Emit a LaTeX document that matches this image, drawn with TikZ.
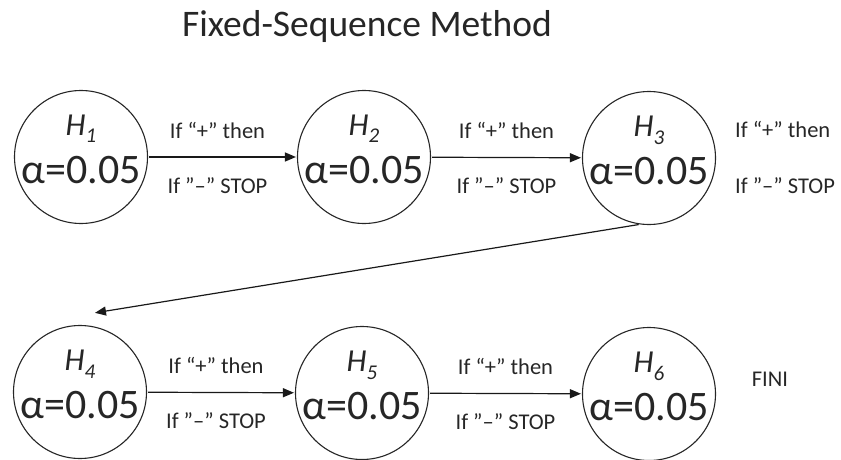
\documentclass[tikz,border=0pt]{standalone}
\usepackage{fontspec}
\setmainfont{Carlito}
\usetikzlibrary{arrows.meta,calc}
\newcommand\hypnode[4]{%
  \node[hyp] (#1) at (#2,#3) {};
  \node[hname] (#1n) at ($(#1)+(0,-22)$) {H\raisebox{-8pt}{\fontsize{21}{24}\selectfont #4}};
  \node[halpha] (#1a) at ($(#1)+(0,26)$) {α=0.05};
}
\begin{document}
\begin{tikzpicture}[x=1pt,y=-1pt,
  hyp/.style={draw=black!85, circle, minimum size=133pt, inner sep=0pt, line width=1.1pt},
  hname/.style={anchor=base, font=\fontsize{32}{36}\selectfont\itshape, inner sep=0pt, text=black!85},
  halpha/.style={anchor=base, font=\fontsize{42}{48}\selectfont, inner sep=0pt, text=black!85},
  lab/.style={anchor=base, font=\fontsize{22.5}{26}\selectfont, inner sep=0pt, text=black!85},
  arr/.style={-{Triangle[length=11pt,width=9pt]}, line width=1.2pt, draw=black!90, shorten >=1pt, shorten <=1pt},
]
\useasboundingbox (0,0) rectangle (841,460);
\node[anchor=base, font=\fontsize{37.5}{44}\selectfont, inner sep=0pt, text=black!85] (title) at (367,37) {Fixed-Sequence Method};

\hypnode{H1}{81}{157}{1}
\hypnode{H2}{364}{157}{2}
\hypnode{H3}{649}{158}{3}
\hypnode{H4}{80}{392}{4}
\hypnode{H5}{362}{393}{5}
\hypnode{H6}{649}{394}{6}

\draw[arr] (H1) -- (H2)
  node[lab, midway, xshift=-5pt, yshift=19pt] (l1a) {If “+” then}
  node[lab, midway, xshift=-5pt, yshift=-36pt] (l1b) {If ”–” STOP};
\draw[arr] (H2) -- (H3)
  node[lab, midway, yshift=19pt] (l2a) {If “+” then}
  node[lab, midway, yshift=-36pt] (l2b) {If ”–” STOP};
\draw[arr] (H4) -- (H5)
  node[lab, midway, xshift=-5pt, yshift=19pt] (l4a) {If “+” then}
  node[lab, midway, xshift=-5pt, yshift=-36pt] (l4b) {If ”–” STOP};
\draw[arr] (H5) -- (H6)
  node[lab, midway, yshift=19pt] (l5a) {If “+” then}
  node[lab, midway, yshift=-36pt] (l5b) {If ”–” STOP};

\node[lab, anchor=base west] (r1) at ($(H3)+(86,-21)$) {If “+” then};
\node[lab, anchor=base west] (r2) at ($(H3)+(86,35)$) {If ”–” STOP};
\node[lab] (fini) at ($(H6)+(121,-8)$) {FINI};

\coordinate (e) at ($(H4)+(14,-79)$);
\draw[arr] (H3.-98) -- (e);
\end{tikzpicture}
\end{document}
